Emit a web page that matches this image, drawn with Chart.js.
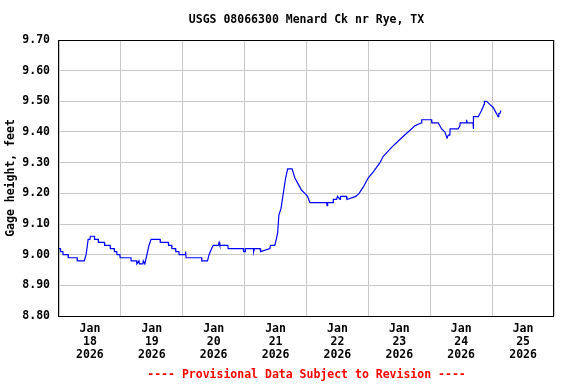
<!DOCTYPE html>
<html>
<head>
<meta charset="utf-8">
<script src="https://cdn.jsdelivr.net/npm/chart.js@4"></script>
<style>
  body { margin: 0; background: #fff; }
</style>
</head>
<body>
<canvas id="gageChart" width="576" height="384"></canvas>
<script>
// Gage height readings, hours since Jan 18 2026 00:00
const hours = [
  0, 0.5, 0.6, 1.5, 1.6, 3.5, 3.6, 7.0, 7.1, 9.8,
  10.5, 11.0, 11.3, 12.0, 12.2, 13.7, 13.8, 15.2, 15.3, 17.6,
  17.7, 19.8, 19.9, 21.4, 21.5, 22.4, 22.5, 23.6, 23.7, 27.9,
  28.0, 30.1, 30.2, 31.0, 31.2, 32.5, 32.7, 33.3, 34.1, 34.9,
  35.7, 39.2, 39.3, 42.4, 42.5, 43.7, 43.8, 45.2, 45.3, 46.5,
  46.6, 48.9, 49.1, 49.3, 55.3, 55.4, 57.6, 58.2, 59.2, 59.8,
  61.8, 62.1, 62.4, 65.5, 65.6, 71.5, 71.6, 72.2, 72.3, 75.4,
  75.5, 75.8, 78.0, 78.2, 81.8, 82.0, 83.7, 84.0, 84.8, 85.3,
  86.1, 87.0, 87.9, 88.7, 90.4, 91.5, 92.8, 94.1, 95.4, 96.4,
  97.3, 103.8, 104.0, 104.2, 106.3, 106.4, 107.7, 108.0, 109.0, 109.2,
  111.5, 111.7, 115.1, 116.4, 118.0, 119.9, 121.9, 124.5, 125.7, 129.0,
  131.5, 134.1, 136.7, 138.0, 140.6, 140.7, 144.5, 144.6, 147.1, 148.4,
  149.7, 150.5, 151.0, 151.6, 151.7, 154.8, 155.5, 155.6, 158.0, 158.1,
  158.3, 160.6, 160.7, 160.8, 162.6, 163.9, 164.9, 165.0, 165.8, 167.1,
  168.4, 169.7, 170.3, 170.6, 171.0, 171.4
];
const gageHeight = [
  9.02, 9.02, 9.01, 9.01, 9.00, 9.00, 8.99, 8.99, 8.98, 8.98,
  9.00, 9.03, 9.05, 9.05, 9.06, 9.06, 9.05, 9.05, 9.04, 9.04,
  9.03, 9.03, 9.02, 9.02, 9.01, 9.01, 9.00, 9.00, 8.99, 8.99,
  8.98, 8.98, 8.97, 8.98, 8.97, 8.97, 8.98, 8.97, 9.00, 9.03,
  9.05, 9.05, 9.04, 9.04, 9.03, 9.03, 9.02, 9.02, 9.01, 9.01,
  9.00, 9.00, 9.01, 8.99, 8.99, 8.98, 8.98, 9.00, 9.02, 9.03,
  9.03, 9.04, 9.03, 9.03, 9.02, 9.02, 9.01, 9.01, 9.02, 9.02,
  9.01, 9.02, 9.02, 9.01, 9.02, 9.03, 9.03, 9.04, 9.07, 9.13,
  9.15, 9.20, 9.25, 9.28, 9.28, 9.25, 9.23, 9.21, 9.20, 9.19,
  9.17, 9.17, 9.16, 9.17, 9.17, 9.18, 9.18, 9.19, 9.18, 9.19,
  9.19, 9.18, 9.19, 9.20, 9.22, 9.25, 9.27, 9.30, 9.32, 9.35,
  9.37, 9.39, 9.41, 9.42, 9.43, 9.44, 9.44, 9.43, 9.43, 9.41,
  9.40, 9.38, 9.39, 9.39, 9.41, 9.41, 9.42, 9.43, 9.43, 9.44,
  9.43, 9.43, 9.41, 9.45, 9.45, 9.47, 9.49, 9.50, 9.50, 9.49,
  9.48, 9.46, 9.45, 9.46, 9.46, 9.47
];

// Axis ticks
const yTickValues = [8.8, 8.9, 9.0, 9.1, 9.2, 9.3, 9.4, 9.5, 9.6, 9.7];
const dayLabels = ['18', '19', '20', '21', '22', '23', '24', '25'];
const monthLabel = 'Jan';
const yearLabel = '2026';

const chartTitle = 'USGS 08066300 Menard Ck nr Rye, TX';
const footNote = '---- Provisional Data Subject to Revision ----';

const fontFamily = "'DejaVu Sans Mono', 'Liberation Mono', monospace";

// black frame round the plot area, title and note centred on it
const framePlugin = {
    id: 'frame',
    afterDraw(chart) {
        const a = chart.chartArea;
        const ctx = chart.ctx;
        ctx.save();
        ctx.strokeStyle = '#000';
        ctx.lineWidth = 1;
        ctx.strokeRect(Math.round(a.left) - 0.5, Math.round(a.top) + 0.5,
            Math.round(a.right - a.left), Math.round(a.bottom - a.top));

        let cx = (a.left + a.right) / 2;
        ctx.font = 'bold 11.5px ' + fontFamily;
        ctx.textAlign = 'center';
        ctx.textBaseline = 'middle';
        ctx.fillStyle = '#000';
        ctx.fillText(chartTitle, cx, 20);
        ctx.fillStyle = '#ff0000';
        ctx.fillText(footNote, cx, 375);
        ctx.restore();
    }
};

let ctx = document.getElementById('gageChart').getContext('2d');
let gageChart = new Chart(ctx, {
    type: 'line',
    data: {
        datasets: [{
            label: 'Gage height',
            data: hours.map((h, i) => ({ x: h, y: gageHeight[i] })),
            borderColor: '#0000ff',
            borderWidth: 1.2,
            pointRadius: 0,
            tension: 0,
            fill: false
        }]
    },
    options: {
        responsive: false,
        animation: false,
        layout: { padding: { left: 0, right: 22, top: 40, bottom: 16 } },
        plugins: {
            legend: { display: false },
            tooltip: { enabled: false }
        },
        scales: {
            x: {
                type: 'linear',
                min: 0,
                max: 192,
                afterBuildTicks: (scale) => {
                    let t = [];
                    for (let h = 0; h <= 192; h += 12) t.push({ value: h });
                    scale.ticks = t;
                },
                afterFit: (scale) => { scale.height = 52; },
                border: { display: false },
                grid: {
                    drawTicks: false,
                    color: (c) => (c.tick && c.tick.value % 24 === 0) ? '#c8c8c8' : 'rgba(0,0,0,0)',
                    lineWidth: 1
                },
                ticks: {
                    autoSkip: false,
                    maxRotation: 0,
                    padding: 7,
                    color: '#000',
                    font: { family: fontFamily, size: 11.5, weight: 'bold', lineHeight: 1.13 },
                    callback: (v) => {
                        if (v % 24 !== 12) return '';
                        let d = Math.floor(v / 24);
                        return [monthLabel, dayLabels[d], yearLabel];
                    }
                }
            },
            y: {
                min: 8.8,
                max: 9.7,
                afterBuildTicks: (scale) => {
                    scale.ticks = yTickValues.map(v => ({ value: v }));
                },
                afterFit: (scale) => { scale.width = 59; },
                border: { display: false },
                grid: { drawTicks: false, color: '#c8c8c8', lineWidth: 1 },
                ticks: {
                    padding: 9,
                    color: '#000',
                    font: { family: fontFamily, size: 11.5, weight: 'bold' },
                    callback: (v) => v.toFixed(2)
                },
                title: {
                    display: true,
                    text: 'Gage height, feet',
                    color: '#000',
                    font: { family: fontFamily, size: 11.5, weight: 'bold', lineHeight: 1.2 },
                    padding: { top: 4, bottom: 0 }
                }
            }
        }
    },
    plugins: [framePlugin]
});
</script>
</body>
</html>
